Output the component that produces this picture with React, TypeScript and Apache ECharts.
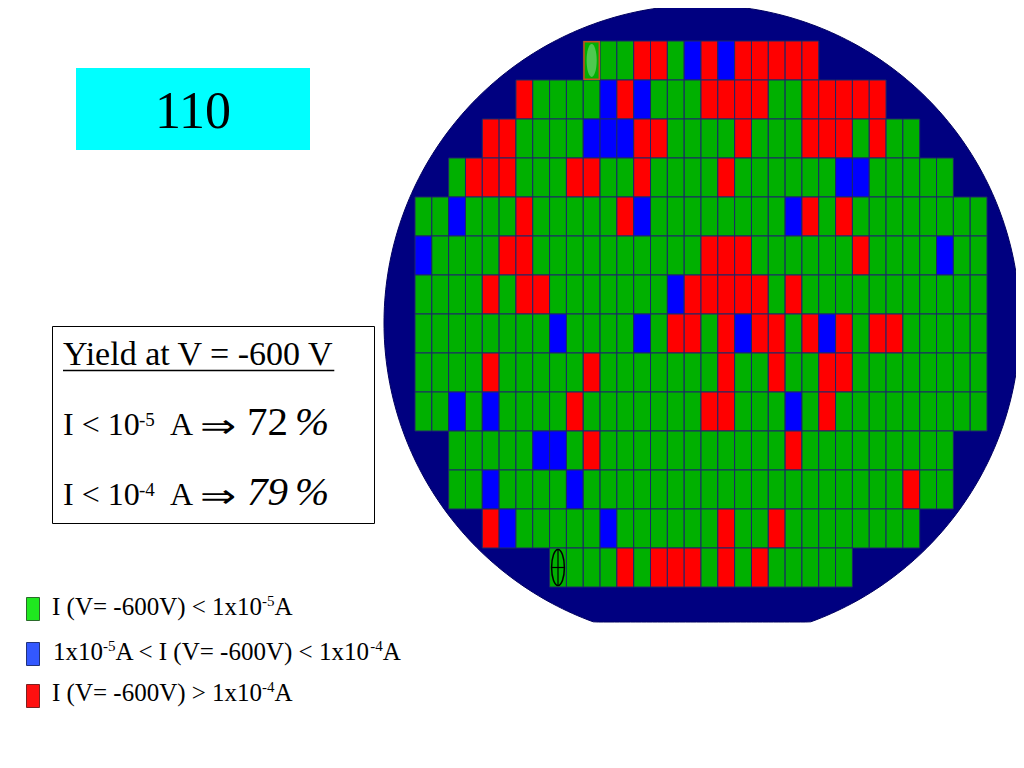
import React, { useEffect, useRef } from "react";
import * as echarts from "echarts";

// ---- wafer map data ----
const columnLabels = Array.from({ length: 34 }, (_, i) => String(i + 1));
const rowLabels = Array.from({ length: 14 }, (_, i) => String(i + 1));
// first die column of each row
const rowStart = [10, 6, 4, 2, 0, 0, 0, 0, 0, 0, 2, 2, 4, 8];
// bins per die: G = I<1e-5 A, B = 1e-5<I<1e-4 A, R = I>1e-4 A
const rowCodes = [
  "GGGRRGBRBRRRRR",
  "RGGGGBRBGGGRRRRGGRRRRR",
  "RRGGGGBBBRRGGGGRGGGRRRGRGG",
  "GRRRGGGRRGGRGGGGRGGGGGGBBGGGGG",
  "GGBGGGRGGGGGRBGGGGGGGGBRGRGGGGGGGG",
  "BGGGGRRGGGGGGGGGGRRRGGGGGGRGGGGBGG",
  "GGGGRGRRGGGGGGGBRRRRRGRGGGGGGGGGGG",
  "GGGGGGGGBGGGGBGRRGRBRRGRBRGRRGGGGG",
  "GGGGRGGGGGRGGGGGGGRGGRGGRRGGGGGGGG",
  "GGBGBGGGGRGGGGGGGRRGGGBGRGGGGGGGGG",
  "GGGGGBBGRGGGGGGGGGGGRGGGGGGGGG",
  "GGBGGGGBGGGGGGGGGGGGGGGGGGGRGG",
  "RBGGGGGBGGGGGGRGGRGGGGGGGG",
  "GGGGRGRRRGRGRGGGGG",
];
const binCodes = ["G", "B", "R"];
const binColors = ["#00b000", "#0000ff", "#ff0000"];
// special dies: [column, row, kind]
const markerDies = [
  [10, 0, 0],
  [8, 13, 1],
];

const titleText = "110";
const yieldTitle = "Yield at V = -600 V";
const yieldValues = ["72", "79"];
const yieldExponents = ["-5", "-4"];

const FONT = "'Liberation Serif', 'Times New Roman', 'DejaVu Serif', serif";

let measureCtx: CanvasRenderingContext2D | null = null;
function measure(text: string, size: number, italic = false) {
  if (!measureCtx) measureCtx = document.createElement("canvas").getContext("2d");
  if (!measureCtx) return text.length * size * 0.5;
  measureCtx.font = `${italic ? "italic " : ""}${size}px ${FONT}`;
  return measureCtx.measureText(text).width;
}

function textEl(text: string, x: number, baseline: number, size: number, opts: any = {}) {
  return {
    type: "text",
    x,
    y: baseline - 0.3375 * size,
    scaleX: opts.scaleX ?? 1,
    z: 20,
    silent: true,
    style: {
      text,
      fill: "#000",
      fontSize: size,
      fontFamily: opts.family ?? FONT,
      fontStyle: opts.italic ? "italic" : "normal",
      fontWeight: "normal",
      align: "left",
      verticalAlign: "middle",
      textAlign: "left",
      textVerticalAlign: "middle",
    },
  };
}

// chain of segments: [text, size, raise]
function chain(x: number, baseline: number, parts: [string, number, number][]) {
  const els: any[] = [];
  let cx = x;
  for (const [t, s, raise] of parts) {
    els.push(textEl(t, cx, baseline - raise, s));
    cx += measure(t, s);
  }
  return els;
}

function waferPoints() {
  const cx = 702, cy = 323, r = 318, flat = 622;
  const pts: number[][] = [];
  for (let i = 0; i < 360; i++) {
    const a = (i / 360) * Math.PI * 2;
    const x = cx + r * Math.cos(a);
    const y = Math.min(flat, cy + r * Math.sin(a));
    pts.push([x, y]);
  }
  return pts;
}

export default function App() {
  const ref = useRef<HTMLDivElement>(null);

  useEffect(() => {
    if (!ref.current) return;
    const chart = echarts.init(ref.current, null, { renderer: "svg" });

    const dieData: number[][] = [];
    rowCodes.forEach((codes, r) => {
      for (let i = 0; i < codes.length; i++) {
        dieData.push([rowStart[r] + i, r, binCodes.indexOf(codes[i])]);
      }
    });

    const renderDie = (_p: any, api: any) => {
      const p = api.coord([api.value(0), api.value(1)]);
      const s = api.size([1, 1]);
      const code = api.value(2);
      return {
        type: "rect",
        shape: { x: p[0] - s[0] / 2, y: p[1] - s[1] / 2, width: s[0], height: s[1] },
        style: { fill: binColors[code], stroke: "#1c2868", lineWidth: 1 },
      };
    };

    const renderMarker = (_p: any, api: any) => {
      const p = api.coord([api.value(0), api.value(1)]);
      const s = api.size([1, 1]);
      const kind = api.value(2);
      const x0 = p[0] - s[0] / 2;
      const y0 = p[1] - s[1] / 2;
      if (kind === 0) {
        return {
          type: "group",
          children: [
            {
              type: "rect",
              shape: { x: x0 + 0.75, y: y0 + 0.75, width: s[0] - 1.5, height: s[1] - 1.5 },
              style: { fill: "#00b000", stroke: "#c8501e", lineWidth: 1.5 },
            },
            {
              type: "ellipse",
              shape: { cx: p[0], cy: p[1], rx: s[0] * 0.3, ry: s[1] * 0.42 },
              style: { fill: "#4fc84f" },
            },
          ],
        };
      }
      return {
        type: "group",
        children: [
          {
            type: "ellipse",
            shape: { cx: p[0], cy: p[1], rx: s[0] * 0.38, ry: s[1] * 0.46 },
            style: { fill: "none", stroke: "#000", lineWidth: 1.5 },
          },
          {
            type: "line",
            shape: { x1: p[0], y1: y0 + 2, x2: p[0], y2: y0 + s[1] - 2 },
            style: { stroke: "#000", lineWidth: 1.2 },
          },
          {
            type: "line",
            shape: { x1: x0 + 2, y1: p[1], x2: x0 + s[0] - 2, y2: p[1] },
            style: { stroke: "#000", lineWidth: 1.2 },
          },
        ],
      };
    };

    const graphic: any[] = [];
    // wafer disc
    graphic.push({
      type: "polygon",
      z: 0,
      silent: true,
      shape: { points: waferPoints() },
      style: { fill: "#000080", stroke: "#000060", lineWidth: 1 },
    });
    // title box
    graphic.push({
      type: "rect",
      z: 1,
      silent: true,
      shape: { x: 76, y: 68, width: 234, height: 82 },
      style: { fill: "#00ffff" },
    });
    graphic.push({
      type: "text",
      x: 193,
      y: 128 - 0.3375 * 52,
      z: 20,
      silent: true,
      style: {
        text: titleText,
        fill: "#000",
        fontSize: 52,
        fontFamily: FONT,
        align: "center",
        verticalAlign: "middle",
        textAlign: "center",
        textVerticalAlign: "middle",
      },
    });
    // yield box
    graphic.push({
      type: "rect",
      z: 1,
      silent: true,
      shape: { x: 52.5, y: 326.5, width: 322, height: 197 },
      style: { fill: "#fff", stroke: "#000", lineWidth: 1 },
    });
    graphic.push(textEl(yieldTitle, 63, 365, 34));
    graphic.push({
      type: "line",
      z: 20,
      silent: true,
      shape: { x1: 63, y1: 370.5, x2: 63 + measure(yieldTitle, 34), y2: 370.5 },
      style: { stroke: "#000", lineWidth: 1.5 },
    });
    const yieldBaselines = [435, 505];
    yieldBaselines.forEach((b, i) => {
      graphic.push(textEl("I < 10", 63, b, 32));
      graphic.push(textEl(yieldExponents[i], 139, b - 9, 19));
      graphic.push(textEl("A", 170, b, 32));
      graphic.push(
        textEl("\u21D2", 200, b, 32, { scaleX: 1.35, family: "'Noto Sans', 'DejaVu Sans', sans-serif" })
      );
      graphic.push(textEl(yieldValues[i], 247, b, 41, { italic: i === 1 }));
      graphic.push(textEl("%", 295, b, 41, { italic: true }));
    });

    // legend
    const legendSquares = [
      { y: 597, fill: "#1fe81f", stroke: "#2a6a2a" },
      { y: 642, fill: "#3358ff", stroke: "#22337a" },
      { y: 684, fill: "#ff1010", stroke: "#7a2222" },
    ];
    legendSquares.forEach((sq) => {
      graphic.push({
        type: "rect",
        z: 1,
        silent: true,
        shape: { x: 26.5, y: sq.y + 0.5, width: 13, height: 23 },
        style: { fill: sq.fill, stroke: sq.stroke, lineWidth: 1 },
      });
    });
    const LS = 25;
    const SS = 15;
    const R = 8.5;
    graphic.push(
      ...chain(52, 615, [
        ["I (V= -600V) < 1x10", LS, 0],
        ["-5", SS, R],
        ["A", LS, 0],
      ])
    );
    graphic.push(
      ...chain(53, 660, [
        ["1x10", LS, 0],
        ["-5", SS, R],
        ["A < I (V= -600V) < 1x10", LS, 0],
        ["-4", SS, R],
        ["A", LS, 0],
      ])
    );
    graphic.push(
      ...chain(52, 701, [
        ["I (V= -600V) > 1x10", LS, 0],
        ["-4", SS, R],
        ["A", LS, 0],
      ])
    );

    chart.setOption({
      animation: false,
      backgroundColor: "#ffffff",
      grid: { left: 415, top: 41, width: 572, height: 546 },
      xAxis: { type: "category", data: columnLabels, show: false },
      yAxis: { type: "category", data: rowLabels, inverse: true, show: false },
      tooltip: { show: false },
      series: [
        {
          type: "custom",
          name: "dies",
          z: 5,
          silent: true,
          data: dieData,
          encode: { x: 0, y: 1 },
          renderItem: renderDie,
        },
        {
          type: "custom",
          name: "markers",
          z: 6,
          silent: true,
          data: markerDies,
          encode: { x: 0, y: 1 },
          renderItem: renderMarker,
        },
      ],
      graphic,
    });

    return () => chart.dispose();
  }, []);

  return (
    <div
      ref={ref}
      style={{ position: "fixed", left: -8, top: -8, width: 1032, height: 776, background: "#fff" }}
    />
  );
}
